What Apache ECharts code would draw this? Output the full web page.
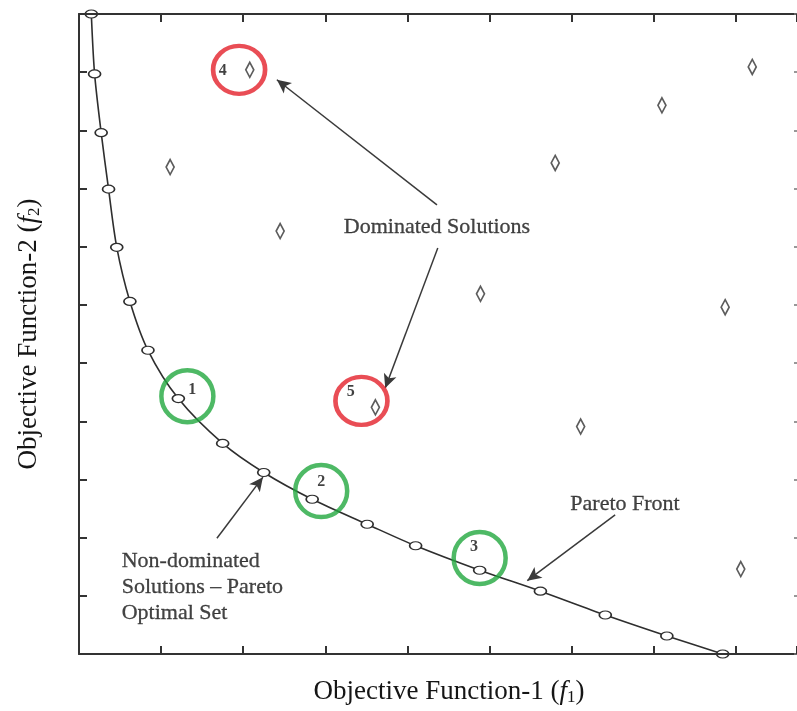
<!DOCTYPE html>
<html>
<head>
<meta charset="utf-8">
<title>Pareto Front</title>
<script src="https://cdn.jsdelivr.net/npm/echarts@6/dist/echarts.min.js"></script>
<style>
  html, body { margin: 0; padding: 0; background: #fff; }
  #chart { width: 797px; height: 711px; }
</style>
</head>
<body>
<div id="chart"></div>
<script>
// Non-dominated solutions along the Pareto front, [f1, f2]
const paretoSet = [
  [0.15, 11.0], [0.19, 9.97], [0.27, 8.96], [0.36, 7.99], [0.46, 6.99],
  [0.62, 6.06], [0.84, 5.22], [1.21, 4.39], [1.75, 3.62], [2.25, 3.12],
  [2.84, 2.66], [3.51, 2.23], [4.10, 1.86], [4.88, 1.44], [5.62, 1.08],
  [6.41, 0.67], [7.16, 0.31], [7.84, 0.0]
];

// Dominated solutions, [f1, f2]
const dominatedSet = [
  [2.08, 10.04], [1.11, 8.37], [2.45, 7.27], [5.80, 8.44], [7.10, 9.43],
  [8.20, 10.09], [4.89, 6.19], [7.87, 5.96], [3.61, 4.24], [6.11, 3.91],
  [8.06, 1.46]
];

// Highlighted solutions: ring centre and number position
const highlightNames = ['1', '2', '3', '4', '5'];
const highlightRings = [[1.32, 4.43], [2.95, 2.80], [4.88, 1.65], [1.95, 10.04], [3.44, 4.35]];
const highlightNumbers = [[1.38, 4.54], [2.95, 2.96], [4.81, 1.84], [1.75, 10.03], [3.31, 4.50]];
const highlightKinds = ['front', 'front', 'front', 'dominated', 'dominated'];

// Callout texts with their anchor and arrows [from, to]
const calloutTexts = ['Dominated Solutions', 'Pareto Front', 'Non-dominated\nSolutions \u2013 Pareto\nOptimal Set'];
const calloutAnchors = [[4.36, 7.34], [6.65, 2.58], [0.52, 1.15]];
const calloutArrows = [
  [[4.36, 7.72], [2.41, 9.87]],
  [[4.37, 6.98], [3.73, 4.57]],
  [[1.68, 1.99], [2.24, 3.04]],
  [[6.53, 2.39], [5.46, 1.26]]
];

// Axis extent (f1, f2) and tick step
const f1Range = [0, 8.745];
const f2Range = [0, 11];
const tickStep = 1;

const SERIF = "'Liberation Serif', 'Times New Roman', serif";
const INK = '#2e2e2e';
const TEXT = '#151515';

// Frame axis: line plus inward ticks, no labels
function frameAxis(position, range, extra) {
  return Object.assign({
    type: 'value',
    position: position,
    min: range[0],
    max: range[1],
    interval: tickStep,
    z: 10,
    axisLine: { show: true, onZero: false, lineStyle: { color: '#333', width: 2 } },
    axisTick: { show: true, inside: true, length: 8, lineStyle: { color: '#333', width: 2 } },
    axisLabel: { show: false },
    splitLine: { show: false }
  }, extra || {});
}

function titleRich() {
  return {
    i: { fontFamily: SERIF, fontSize: 27, fontStyle: 'italic', color: TEXT },
    s: { fontFamily: SERIF, fontSize: 17, color: TEXT, verticalAlign: 'bottom', padding: [12, 0, 0, 0] }
  };
}

const ringColors = { front: '#22a83f', dominated: '#e3202a' };
const ringSizes = { front: [52, 52], dominated: [52, 48] };

const chart = echarts.init(document.getElementById('chart'), null, { renderer: 'canvas' });

chart.setOption({
  backgroundColor: '#ffffff',
  animation: false,
  grid: { left: 79, top: 14, width: 718, height: 640, containLabel: false },
  xAxis: [
    frameAxis('top', f1Range),
    frameAxis('bottom', f1Range, {
      name: 'Objective Function-1 ({i|f}{s|1})',
      nameLocation: 'middle', nameGap: 23,
      nameTextStyle: { fontFamily: SERIF, fontSize: 27, color: TEXT, padding: [0, 0, 0, 22], rich: titleRich() }
    })
  ],
  yAxis: [
    frameAxis('left', f2Range, {
      name: 'Objective Function-2 ({i|f}{s|2})',
      nameLocation: 'middle', nameGap: 36,
      nameTextStyle: { fontFamily: SERIF, fontSize: 27, color: TEXT, rich: titleRich() }
    }),
    // right frame edge sits at the window border: only the tick stubs show
    frameAxis('right', f2Range, {
      axisLine: { show: false, onZero: false },
      axisTick: { show: true, inside: true, length: 3, lineStyle: { color: '#777', width: 1.5 } }
    })
  ],
  series: [
    {
      name: 'Pareto front',
      type: 'line',
      data: paretoSet,
      smooth: 0.3,
      clip: false,
      symbol: 'circle',
      symbolSize: [12, 8],
      lineStyle: { color: INK, width: 1.6 },
      itemStyle: { color: '#fff', borderColor: INK, borderWidth: 1.4 },
      z: 3,
      markLine: {
        silent: true,
        symbol: ['none', 'arrow'],
        symbolSize: [10, 14],
        label: { show: false },
        lineStyle: { color: '#3a3a3a', width: 1.5, type: 'solid' },
        data: calloutArrows.map(a => [{ coord: a[0] }, { coord: a[1] }])
      }
    },
    {
      name: 'Dominated',
      type: 'scatter',
      data: dominatedSet,
      symbol: 'diamond',
      symbolSize: [8, 15],
      clip: false,
      itemStyle: { color: '#fff', borderColor: '#333', borderWidth: 1.8 },
      z: 3
    },
    {
      name: 'Callouts',
      type: 'scatter',
      silent: true,
      symbolSize: 0,
      data: calloutAnchors.map((p, k) => ({
        value: p,
        label: k === 2
          ? { show: true, position: 'right', distance: 0, align: 'left', verticalAlign: 'middle', lineHeight: 26, color: TEXT }
          : { show: true, position: 'inside', align: 'center', verticalAlign: 'middle', color: TEXT }
      })),
      label: {
        show: true,
        formatter: (p) => calloutTexts[p.dataIndex],
        fontFamily: SERIF, fontSize: 22, color: TEXT,
        textBorderColor: TEXT, textBorderWidth: 0.3
      },
      z: 5
    },
    {
      name: 'Highlight numbers',
      type: 'scatter',
      silent: true,
      symbolSize: 0,
      data: highlightNumbers,
      label: {
        show: true, position: 'inside',
        formatter: (p) => highlightNames[p.dataIndex],
        fontFamily: SERIF, fontSize: 16, fontWeight: 'bold', color: '#111'
      },
      z: 6
    },
    {
      name: 'Highlight rings',
      type: 'scatter',
      silent: true,
      clip: false,
      data: highlightRings.map((p, k) => ({
        value: p,
        symbolSize: ringSizes[highlightKinds[k]],
        itemStyle: { color: 'rgba(0,0,0,0)', borderColor: ringColors[highlightKinds[k]], borderWidth: 4.5 }
      })),
      symbol: 'circle',
      z: 7
    }
  ]
});
</script>
</body>
</html>
